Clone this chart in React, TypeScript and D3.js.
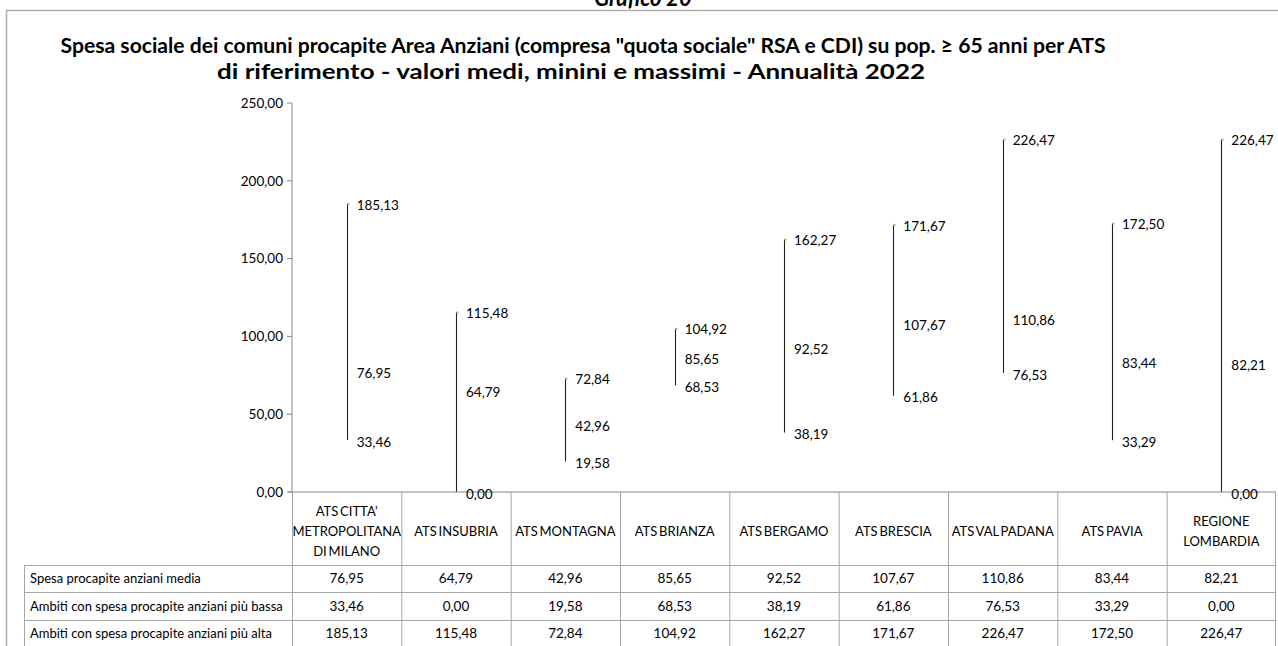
import React from "react";
import * as d3 from "d3";

const categories: string[][] = [
  ["ATS CITTA'", "METROPOLITANA", "DI MILANO"],
  ["ATS INSUBRIA"],
  ["ATS MONTAGNA"],
  ["ATS BRIANZA"],
  ["ATS BERGAMO"],
  ["ATS BRESCIA"],
  ["ATS VAL PADANA"],
  ["ATS PAVIA"],
  ["REGIONE", "LOMBARDIA"],
];
const mediaValues = [76.95, 64.79, 42.96, 85.65, 92.52, 107.67, 110.86, 83.44, 82.21];
const minValues = [33.46, 0.0, 19.58, 68.53, 38.19, 61.86, 76.53, 33.29, 0.0];
const maxValues = [185.13, 115.48, 72.84, 104.92, 162.27, 171.67, 226.47, 172.5, 226.47];
const yTicks = [0, 50, 100, 150, 200, 250];
const rowLabels = [
  "Spesa procapite anziani media",
  "Ambiti con spesa procapite anziani più bassa",
  "Ambiti con spesa procapite anziani più alta",
];
const titleLines = [
  'Spesa sociale dei comuni procapite Area Anziani (compresa "quota sociale" RSA  e CDI) su pop. ≥ 65 anni per ATS',
  "di riferimento - valori medi, minini e massimi - Annualità 2022",
];

const fmt = (v: number) => d3.format(".2f")(v).replace(".", ",");
const FONT = "Lato, 'Open Sans', sans-serif";

export default function App() {
  const W = 1278;
  const H = 646;
  const plotLeft = 292;
  const plotRight = 1276;
  const y = d3.scaleLinear().domain([0, 250]).range([492, 103]);
  const x = d3
    .scaleBand<number>()
    .domain(categories.map((_, i) => i))
    .range([plotLeft, plotRight])
    .padding(0);
  const bw = x.bandwidth();
  const axisY = y(0);
  const headerBottom = 565;
  const rowH = 27.3;
  const tableLeft = 24;
  const rows = [mediaValues, minValues, maxValues];
  const gridColor = "#a6a6a6";

  return (
    <svg
      width={W}
      height={H}
      style={{ position: "absolute", top: 0, left: 0, background: "#fff" }}
      fontFamily={FONT}
    >
      <rect x={0} y={0} width={W} height={H} fill="#fff" />
      {/* Header "Grafico 20" partly above the visible area, as in the reference */}
      <text
        x={643}
        y={6}
        textAnchor="middle"
        fontSize={22}
        fontWeight="bold"
        fontStyle="italic"
        fill="#000"
      >
        Grafico 20
      </text>
      {/* frame */}
      <path d={`M6.5,${H} V10.5 H${W}`} fill="none" stroke="#b0b0b0" strokeWidth={1.6} />

      {/* title */}
      <text x={583} y={52.5} textAnchor="middle" fontSize={21} fontWeight="bold" textLength={1045} lengthAdjust="spacingAndGlyphs">
        {titleLines[0]}
      </text>
      <text x={571} y={78.5} textAnchor="middle" fontSize={21} fontWeight="bold" textLength={708} lengthAdjust="spacingAndGlyphs">
        {titleLines[1]}
      </text>

      {/* y axis */}
      <line x1={plotLeft} x2={plotLeft} y1={y(250)} y2={axisY} stroke="#868686" strokeWidth={1} />
      {yTicks.map((t) => (
        <g key={t}>
          <line x1={plotLeft - 5} x2={plotLeft} y1={y(t)} y2={y(t)} stroke="#868686" />
          <text x={plotLeft - 9} y={y(t)} dy="0.35em" textAnchor="end" fontSize={13.5} fill="#000">
            {fmt(t)}
          </text>
        </g>
      ))}

      {/* high-low lines */}
      {categories.map((_, i) => {
        const cx = Math.round((x(i) as number) + bw / 2) + 0.5;
        return (
          <g key={i}>
            <line x1={cx} x2={cx} y1={y(minValues[i])} y2={y(maxValues[i])} stroke="#222" strokeWidth={1.1} />
            <line x1={cx} x2={cx + 2} y1={y(maxValues[i])} y2={y(maxValues[i])} stroke="#92d050" strokeWidth={2} />
          </g>
        );
      })}

      {/* x axis line */}
      <line x1={plotLeft - 4} x2={plotRight} y1={axisY} y2={axisY} stroke="#868686" strokeWidth={1} />

      {/* data labels */}
      {categories.map((_, i) => {
        const cx = (x(i) as number) + bw / 2 + 10;
        return (
          <g key={i} fontSize={13.5} fill="#000">
            <text x={cx} y={y(maxValues[i]) + 1} dy="0.35em">{fmt(maxValues[i])}</text>
            <text x={cx} y={y(mediaValues[i]) + 1} dy="0.35em">{fmt(mediaValues[i])}</text>
            <text x={cx} y={y(minValues[i]) + 2} dy="0.35em">{fmt(minValues[i])}</text>
          </g>
        );
      })}

      {/* table */}
      {categories.map((_, i) => (
        <line
          key={i}
          x1={(x(i) as number) + 0.5}
          x2={(x(i) as number) + 0.5}
          y1={axisY}
          y2={H}
          stroke={gridColor}
        />
      ))}
      <line x1={plotRight - 0.5} x2={plotRight - 0.5} y1={axisY} y2={H} stroke={gridColor} />
      <line x1={tableLeft + 0.5} x2={tableLeft + 0.5} y1={headerBottom} y2={H} stroke={gridColor} />
      {[0, 1, 2].map((r) => (
        <line
          key={r}
          x1={tableLeft}
          x2={plotRight}
          y1={Math.round(headerBottom + r * rowH) + 0.5}
          y2={Math.round(headerBottom + r * rowH) + 0.5}
          stroke={gridColor}
        />
      ))}

      {/* category labels */}
      {categories.map((lines, i) => {
        const cx = (x(i) as number) + bw / 2;
        const mid = 531;
        const start = mid - ((lines.length - 1) * 20) / 2;
        return (
          <text key={i} x={cx} textAnchor="middle" fontSize={13} fill="#000" wordSpacing={-1.5}>
            {lines.map((l, k) => (
              <tspan key={k} x={cx} y={start + k * 20} dy="0.35em">
                {l}
              </tspan>
            ))}
          </text>
        );
      })}

      {/* row labels and values */}
      {rowLabels.map((lab, r) => {
        const cy = headerBottom + r * rowH + rowH / 2;
        return (
          <g key={r} fontSize={13} fill="#000">
            <text x={tableLeft + 6} y={cy} dy="0.35em">
              {lab}
            </text>
            {rows[r].map((v, i) => (
              <text key={i} x={(x(i) as number) + bw / 2} y={cy} dy="0.35em" textAnchor="middle" fontSize={13.5}>
                {fmt(v)}
              </text>
            ))}
          </g>
        );
      })}
    </svg>
  );
}
